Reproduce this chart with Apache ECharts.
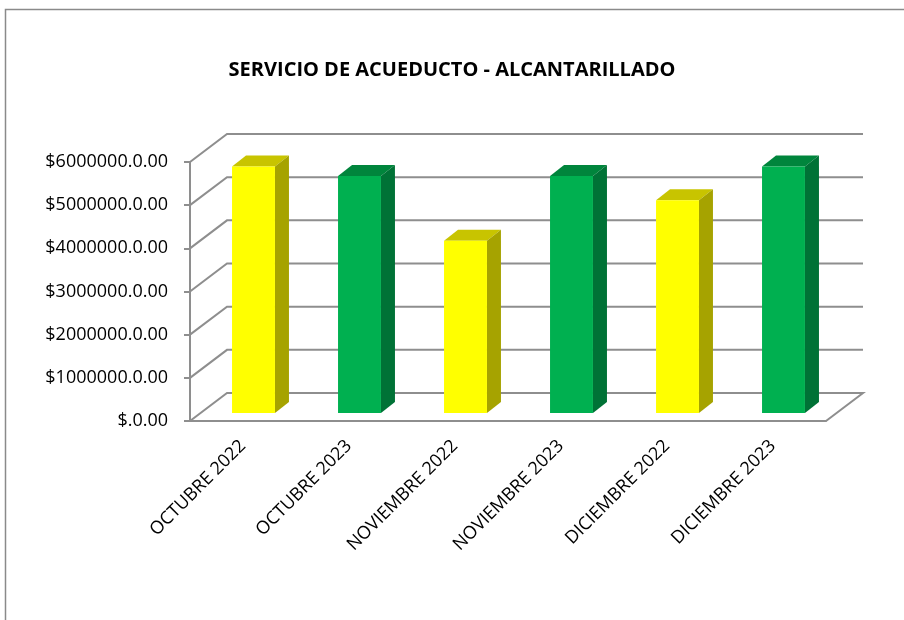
<!DOCTYPE html>
<html>
<head>
<meta charset="utf-8">
<script src="https://cdn.jsdelivr.net/npm/echarts@6/dist/echarts.min.js"></script>
<style>
    html, body { margin: 0; padding: 0; background: #fff; }
    #chart { width: 904px; height: 620px; }
</style>
</head>
<body>
<div id="chart"></div>
<script>
const categories = ['OCTUBRE 2022', 'OCTUBRE 2023', 'NOVIEMBRE 2022', 'NOVIEMBRE 2023', 'DICIEMBRE 2022', 'DICIEMBRE 2023'];
const values = [5710000, 5490000, 3990000, 5490000, 4930000, 5710000];
const yTicks = [0, 1000000, 2000000, 3000000, 4000000, 5000000, 6000000];
const yTickLabels = ['$.0.00', '$1000000.0.00', '$2000000.0.00', '$3000000.0.00', '$4000000.0.00', '$5000000.0.00', '$6000000.0.00'];

// colores: 2022 amarillo, 2023 verde
const palette = {
    '2022': { front: '#ffff00', top: '#c8c400', side: '#a6a300' },
    '2023': { front: '#00b050', top: '#00853c', side: '#007236' }
};

// profundidad del "3D"
const WALL_DX = 37, WALL_DY = -28;
const BAR_OX = 10.5, BAR_OY = -8;
const BAR_DX = 14, BAR_DY = -11;
const GRID_COLOR = '#8e8e8e';

const chart = echarts.init(document.getElementById('chart'));

chart.setOption({
    backgroundColor: '#fff',
    animation: false,
    title: {
        text: 'SERVICIO DE ACUEDUCTO - ALCANTARILLADO',
        left: 'center',
        top: 55,
        textStyle: {
            fontFamily: 'Open Sans',
            fontWeight: 'bold',
            fontSize: 20,
            color: '#000'
        }
    },
    graphic: [
        {
            type: 'rect',
            shape: { x: 5.5, y: 9.5, width: 1000, height: 1000 },
            style: { fill: 'none', stroke: '#8a8a8a', lineWidth: 1.5 },
            silent: true
        }
    ],
    grid: {
        left: 190,
        top: 162,
        width: 636,
        height: 259,
        outerBoundsMode: 'none'
    },
    xAxis: {
        type: 'category',
        data: categories,
        axisLine: { lineStyle: { color: GRID_COLOR, width: 2 } },
        axisTick: { length: 6, lineStyle: { color: GRID_COLOR, width: 2 } },
        axisLabel: {
            rotate: 45,
            margin: 22,
            color: '#000',
            fontFamily: 'Open Sans',
            fontSize: 18
        },
        splitLine: { show: false }
    },
    yAxis: {
        type: 'value',
        min: 0,
        max: 6000000,
        interval: 1000000,
        axisLine: { show: true, lineStyle: { color: GRID_COLOR, width: 2 } },
        axisTick: { show: true, length: 6, lineStyle: { color: GRID_COLOR, width: 2 } },
        axisLabel: {
            margin: 22,
            color: '#000',
            fontFamily: 'Open Sans',
            fontSize: 18,
            formatter: (v) => yTickLabels[yTicks.indexOf(v)]
        },
        splitLine: { show: false }
    },
    series: [
        {
            // pared del fondo, pared lateral y piso
            type: 'custom',
            z: 1,
            silent: true,
            data: yTicks.map(v => [0, v]),
            renderItem: (params, api) => {
                const cs = params.coordSys;
                const y = api.coord([0, api.value(1)])[1];
                const x0 = cs.x, x1 = cs.x + cs.width;
                const pts = [
                    [x0, y],
                    [x0 + WALL_DX, y + WALL_DY],
                    [x1 + WALL_DX, y + WALL_DY]
                ];
                if (api.value(1) === 0) pts.push([x1, y]);
                return {
                    type: 'polyline',
                    shape: { points: pts },
                    style: { stroke: GRID_COLOR, lineWidth: 2, fill: null }
                };
            }
        },
        {
            type: 'custom',
            z: 2,
            data: values.map((v, i) => [i, v]),
            renderItem: (params, api) => {
                const i = api.value(0);
                const top = api.coord([i, api.value(1)]);
                const base = api.coord([i, 0]);
                const w = api.size([1, 0])[0] * 0.405;
                const c = palette[categories[i].slice(-4)];
                const x0 = top[0] - w / 2 + BAR_OX;
                const x1 = x0 + w;
                const yt = top[1] + BAR_OY;
                const yb = base[1] + BAR_OY;
                return {
                    type: 'group',
                    children: [
                        {
                            type: 'polygon',
                            shape: { points: [[x0, yt], [x1, yt], [x1 + BAR_DX, yt + BAR_DY], [x0 + BAR_DX, yt + BAR_DY]] },
                            style: { fill: c.top }
                        },
                        {
                            type: 'polygon',
                            shape: { points: [[x1, yt], [x1 + BAR_DX, yt + BAR_DY], [x1 + BAR_DX, yb + BAR_DY], [x1, yb]] },
                            style: { fill: c.side }
                        },
                        {
                            type: 'rect',
                            shape: { x: x0, y: yt, width: w, height: yb - yt },
                            style: { fill: c.front }
                        }
                    ]
                };
            }
        }
    ]
});
</script>
</body>
</html>
